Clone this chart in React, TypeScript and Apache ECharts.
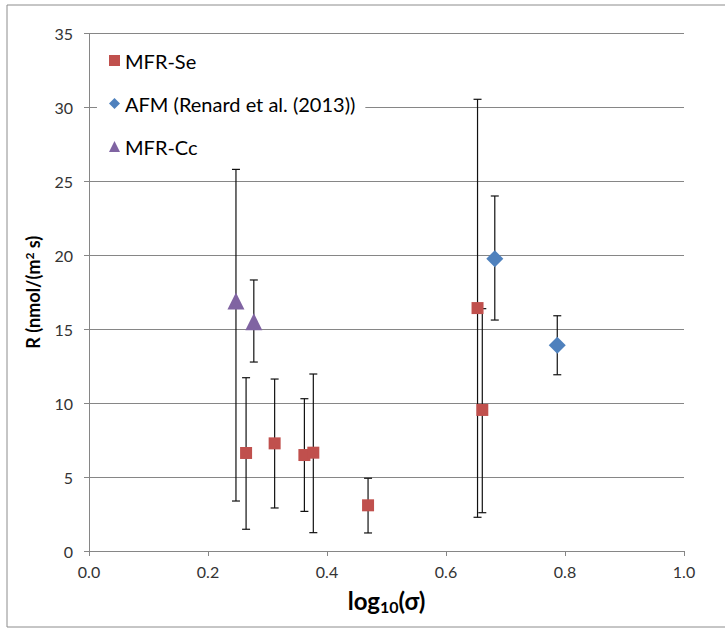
import React, { useEffect, useRef } from "react";
import * as echarts from "echarts";

// MFR-Se
const seX = [0.264, 0.312, 0.362, 0.377, 0.469, 0.653, 0.661];
const seY = [6.63, 7.28, 6.49, 6.65, 3.09, 16.43, 9.54];
const seLow = [1.47, 2.91, 2.68, 1.24, 1.22, 2.28, 2.59];
const seHigh = [11.72, 11.63, 10.3, 11.97, 4.92, 30.55, 16.39];

// AFM (Renard et al. (2013))
const afmX = [0.682, 0.787];
const afmY = [19.77, 13.91];
const afmLow = [15.62, 11.92];
const afmHigh = [24.01, 15.91];

// MFR-Cc
const ccX = [0.247, 0.277];
const ccY = [16.9, 15.51];
const ccLow = [3.38, 12.78];
const ccHigh = [25.81, 18.33];

const xTicks = [0, 0.2, 0.4, 0.6, 0.8, 1.0];
const yTicks = [0, 5, 10, 15, 20, 25, 30, 35];

const seriesNames = ["MFR-Se", "AFM (Renard et al. (2013))", "MFR-Cc"];
const colors = ["#C0504D", "#4F81BD", "#8064A2"];

const FONT = "Lato";

function pts(xs: number[], ys: number[]) {
  return xs.map((x, i) => [x, ys[i]]);
}
function errs(xs: number[], lo: number[], hi: number[]) {
  return xs.map((x, i) => [x, lo[i], hi[i]]);
}

function errorSeries(data: number[][]) {
  return {
    type: "custom",
    silent: true,
    z: 1,
    data,
    renderItem: (params: any, api: any) => {
      const x = api.value(0);
      const lo = api.coord([x, api.value(1)]);
      const hi = api.coord([x, api.value(2)]);
      const cap = 4;
      const style = { stroke: "#111", lineWidth: 1.2 };
      return {
        type: "group",
        children: [
          { type: "line", shape: { x1: lo[0], y1: lo[1], x2: hi[0], y2: hi[1] }, style },
          { type: "line", shape: { x1: lo[0] - cap, y1: lo[1], x2: lo[0] + cap, y2: lo[1] }, style },
          { type: "line", shape: { x1: hi[0] - cap, y1: hi[1], x2: hi[0] + cap, y2: hi[1] }, style },
        ],
      };
    },
  };
}

export default function App() {
  const ref = useRef<HTMLDivElement>(null);
  useEffect(() => {
    if (!ref.current) return;
    const chart = echarts.init(ref.current, undefined, { renderer: "svg" });
    const axisGray = "#868686";
    chart.setOption({
      animation: false,
      backgroundColor: "#ffffff",
      textStyle: { fontFamily: FONT },
      graphic: [
        {
          type: "rect",
          shape: { x: 7, y: 5, width: 740, height: 622 },
          style: { fill: "none", stroke: "#8c8c8c", lineWidth: 1 },
          silent: true,
        },
      ],
      grid: { left: 89, top: 33.5, width: 595, height: 517.5 },
      legend: {
        orient: "vertical",
        left: 97,
        top: 44,
        padding: [5, 10, 5, 12],
        backgroundColor: "#ffffff",
        itemWidth: 11,
        itemHeight: 11,
        itemGap: 20,
        data: seriesNames,
        textStyle: { fontFamily: FONT, fontSize: 20, color: "#000", lineHeight: 23 },
      },
      xAxis: {
        type: "value",
        min: 0,
        max: 1,
        interval: 0.2,
        splitLine: { show: false },
        axisLine: { show: true, lineStyle: { color: axisGray, width: 1 } },
        axisTick: { show: true, length: 5, lineStyle: { color: axisGray } },
        axisLabel: {
          margin: 12,
          fontFamily: FONT,
          fontSize: 16,
          color: "#333",
          formatter: (v: number) => (xTicks.includes(Math.round(v * 10) / 10) ? v.toFixed(1) : ""),
        },
        name: "log{sub|10}(σ)",
        nameLocation: "middle",
        nameGap: 36,
        nameTextStyle: {
          fontFamily: FONT,
          fontSize: 24,
          fontWeight: "bold",
          color: "#000",
          rich: {
            sub: { fontFamily: FONT, fontSize: 16, fontWeight: "bold", color: "#000", padding: [11, 0, 0, 0] },
          },
        },
      },
      yAxis: {
        type: "value",
        min: 0,
        max: 35,
        interval: 5,
        splitLine: { show: true, lineStyle: { color: axisGray, width: 1 } },
        axisLine: { show: true, lineStyle: { color: axisGray, width: 1 } },
        axisTick: { show: true, length: 5, lineStyle: { color: axisGray } },
        axisLabel: {
          margin: 16,
          fontFamily: FONT,
          fontSize: 16,
          color: "#333",
          formatter: (v: number) => (yTicks.includes(v) ? String(v) : ""),
        },
        name: "R (nmol/(m{sup|2} s)",
        nameLocation: "middle",
        nameRotate: 90,
        nameGap: 46,
        nameTextStyle: {
          fontFamily: FONT,
          fontSize: 18,
          fontWeight: "bold",
          color: "#000",
          rich: {
            sup: { fontFamily: FONT, fontSize: 12, fontWeight: "bold", color: "#000", padding: [0, 0, 8, 0] },
          },
        },
      },
      series: [
        errorSeries(errs(seX, seLow, seHigh)),
        errorSeries(errs(afmX, afmLow, afmHigh)),
        errorSeries(errs(ccX, ccLow, ccHigh)),
        {
          name: seriesNames[0],
          type: "scatter",
          symbol: "rect",
          symbolSize: 12,
          z: 3,
          itemStyle: { color: colors[0], opacity: 1 },
          data: pts(seX, seY),
        },
        {
          name: seriesNames[1],
          type: "scatter",
          symbol: "diamond",
          symbolSize: 17,
          z: 3,
          itemStyle: { color: colors[1], opacity: 1 },
          data: pts(afmX, afmY),
        },
        {
          name: seriesNames[2],
          type: "scatter",
          symbol: "triangle",
          symbolSize: 17,
          z: 3,
          itemStyle: { color: colors[2], opacity: 1 },
          data: pts(ccX, ccY),
        },
      ],
    });
    return () => chart.dispose();
  }, []);
  return (
    <div
      ref={ref}
      style={{ position: "absolute", left: 0, top: 0, width: 725, height: 632 }}
    />
  );
}
